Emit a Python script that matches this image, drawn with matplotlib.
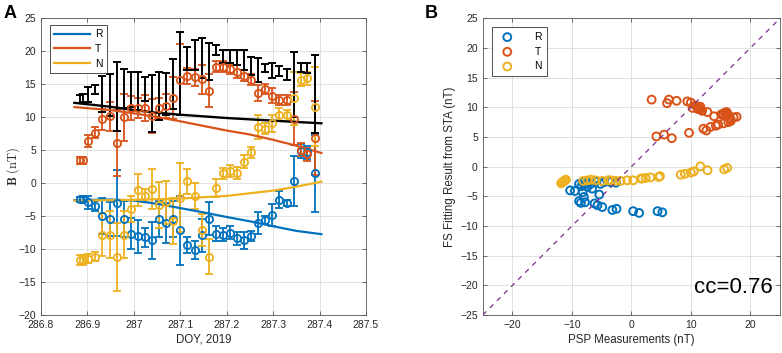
import numpy as np
import matplotlib
matplotlib.use("Agg")
import matplotlib.pyplot as plt

plt.rcParams["font.family"] = ["Liberation Sans", "DejaVu Sans"]
plt.rcParams["mathtext.fontset"] = "cm"

C_R, C_T, C_N, C_P = "#0072BD", "#D95319", "#EDB120", "#7E2F8E"
TXT = "#262626"

# ---- panel A: measurements (DOY) ----
doy = [286.884, 286.891, 286.902, 286.917, 286.932, 286.948, 286.963, 286.978, 286.993,
       287.009, 287.024, 287.039, 287.054, 287.070, 287.085, 287.100, 287.115, 287.131,
       287.146, 287.161, 287.176, 287.192, 287.207, 287.222, 287.237, 287.252, 287.268,
       287.283, 287.298, 287.313, 287.329, 287.344, 287.359, 287.374, 287.390]
br = [-2.5, -2.5, -3.0, -3.5, -5.0, -5.5, -3.1, -5.5, -7.7, -8.1, -8.3, -8.75, -5.5, -6.1,
      -5.5, -7.2, -9.5, -10.2, -8.0, -5.5, -7.7, -7.9, -7.6, -8.45, -8.75, -8.1, -6.1, -5.7,
      -4.9, -2.6, -3.1, 0.3, 4.8, 4.6, 1.4]
br_err = [0.4, 0.4, 1.0, 0.8, 2.7, 2.6, 5.0, 2.7, 2.3, 2.5, 1.4, 2.8, 2.7, 3.0, 2.7, 5.2,
          1.2, 1.4, 2.5, 2.5, 1.2, 1.0, 1.0, 1.0, 1.3, 0.8, 1.7, 0.6, 1.6, 1.3, 0.5, 3.8,
          1.0, 1.0, 5.9]
bt = [3.4, 3.4, 6.3, 7.6, 9.6, 10.1, 6.0, 9.9, 11.3, 11.3, 11.3, 10.1, 11.3, 11.6, 12.8,
      15.6, 16.2, 16.0, 15.7, 13.9, 17.6, 17.6, 17.2, 16.8, 16.2, 15.6, 13.6, 14.2, 13.2,
      12.5, 12.5, 9.7, 5.0, 4.3, 6.8]
bt_err = [0.5, 0.5, 0.9, 0.8, 1.6, 2.2, 5.0, 3.6, 1.8, 1.5, 2.0, 2.6, 1.6, 1.8, 3.2, 5.4,
          1.2, 1.3, 2.2, 2.5, 0.8, 0.8, 0.7, 1.0, 0.8, 0.8, 1.2, 0.7, 1.2, 0.8, 0.8, 4.0,
          1.0, 1.0, 5.6]
bn = [-11.7, -11.7, -11.5, -11.2, -7.85, -7.85, -11.25, -7.85, -3.95, -1.1, -2.0, -0.95,
      -3.35, -3.0, -5.85, -2.25, 0.25, -2.0, -7.2, -11.2, -0.8, 1.4, 1.8, 1.5, 3.2, 4.6,
      8.4, 8.2, 9.0, 10.3, 10.2, 12.8, 15.6, 15.8, 11.5]
bn_err = [0.7, 0.7, 0.7, 0.7, 3.2, 3.6, 5.2, 3.6, 2.0, 2.4, 1.0, 3.0, 3.5, 3.2, 3.5, 5.2,
          1.9, 2.0, 2.4, 2.6, 1.3, 0.8, 0.9, 0.9, 1.0, 0.8, 1.8, 0.8, 1.3, 1.0, 0.8, 4.0,
          1.0, 1.0, 6.0]
bmag = [12.7, 12.8, 13.4, 14.1, 13.4, 13.3, 13.1, 14.3, 14.1, 13.9, 14.2, 12.0, 13.1, 13.4,
        14.9, 16.5, 18.8, 19.3, 18.9, 18.4, 20.1, 19.1, 19.1, 19.0, 18.6, 17.7, 17.1, 17.4,
        17.0, 16.9, 16.4, 14.9, 17.5, 17.4, 13.4]
bmag_err = [0.6, 0.6, 1.1, 0.7, 2.7, 3.2, 5.2, 3.0, 2.6, 2.9, 1.8, 4.3, 3.6, 3.2, 3.8, 6.3,
            1.7, 2.3, 3.0, 2.8, 0.8, 1.0, 1.0, 1.1, 1.5, 1.4, 1.8, 0.6, 1.2, 0.8, 0.8, 4.9,
            0.7, 0.8, 5.9]

# ---- panel A: flux-rope fit curves ----
fit_doy = [286.872, 286.95, 287.0, 287.05, 287.1, 287.15, 287.2, 287.25, 287.3, 287.35, 287.404]
fit_r = [-2.65, -2.55, -2.7, -3.2, -3.85, -4.5, -5.2, -5.85, -6.6, -7.3, -7.8]
fit_t = [11.45, 11.0, 10.5, 9.95, 9.3, 8.6, 7.9, 7.3, 6.5, 5.6, 4.5]
fit_n = [-2.7, -2.65, -2.6, -2.5, -2.4, -2.2, -2.0, -1.6, -1.2, -0.6, 0.15]
fit_mag = [12.1, 11.5, 11.0, 10.6, 10.3, 10.05, 9.8, 9.6, 9.4, 9.2, 9.0]

# ---- panel B: PSP measured vs FS fit ----
sc_r_x = [-10.3, -9.5, -8.8, -8.2, -8.2, -7.7, -8.8, -8.5, -8.0, -7.8, -7.4, -6.8, -6.6, -6.0,
          -5.4, -5.2, -4.6, -6.2, -5.7, -4.9, -3.2, -2.5, 0.3, 1.3, 4.4, 5.2, -3.5, -2.6, -8.4, -7.2]
sc_r_y = [-4.0, -4.1, -2.9, -2.6, -4.3, -2.9, -5.8, -6.1, -5.1, -6.0, -3.4, -2.9, -3.7, -2.5,
          -4.7, -2.9, -2.6, -6.2, -6.5, -6.8, -7.3, -7.1, -7.5, -7.8, -7.5, -7.7, -2.6, -2.7, -3.3, -2.6]
sc_t_x = [3.4, 6.0, 6.3, 7.6, 9.4, 10.0, 10.3, 10.8, 11.1, 11.4, 11.7, 11.9, 11.2, 11.6, 12.8,
          13.9, 12.1, 12.6, 13.3, 14.2, 14.6, 15.5, 15.4, 15.7, 15.9, 16.2, 16.5, 16.7, 17.2,
          17.7, 16.3, 16.7, 4.2, 5.5, 6.8, 9.7, 15.1, 16.0]
sc_t_y = [11.3, 10.7, 11.3, 11.1, 11.0, 10.8, 9.9, 10.3, 10.0, 9.8, 9.6, 9.4, 9.7, 10.1, 9.2,
          8.5, 6.4, 6.1, 6.7, 6.9, 7.1, 7.3, 8.9, 9.1, 8.6, 8.9, 8.3, 8.0, 8.3, 8.4, 7.5, 7.7,
          5.1, 5.4, 4.8, 5.7, 8.8, 9.2]
sc_n_x = [-11.8, -11.6, -11.4, -11.2, -11.0, -8.1, -7.4, -6.8, -6.0, -4.9, -3.9, -3.4, -2.6,
          -1.8, -0.7, 0.3, 1.6, 2.4, 3.2, 4.6, 1.8, 4.8, 8.3, 9.0, 10.0, 10.5, 11.6, 12.8, 15.6, 16.1]
sc_n_y = [-2.8, -2.6, -2.5, -2.3, -2.2, -2.4, -2.3, -2.2, -2.3, -2.4, -2.3, -2.3, -2.4, -2.4,
          -2.3, -2.3, -2.0, -1.9, -1.8, -1.75, -2.0, -1.6, -1.35, -1.2, -1.0, -0.8, 0.05, -0.6,
          -0.45, -0.2]
cc_text = "cc=0.76"

fig = plt.figure(figsize=(7.82, 3.53), dpi=100)
axA = fig.add_axes([0.0524, 0.1085, 0.4156, 0.8414])
axB = fig.add_axes([0.6173, 0.1076, 0.3802, 0.8405])

def style(ax):
    ax.grid(True, color="#dcdcdc", lw=0.6)
    ax.set_axisbelow(True)
    for s in ax.spines.values():
        s.set_color("#555555"); s.set_linewidth(0.6)
    ax.tick_params(direction="in", length=3, width=0.6, colors="#555555",
                   labelcolor=TXT, labelsize=7.5, top=True, right=True)

# panel A
eb = dict(fmt="o", mfc="none", ms=5.2, mew=1.3, elinewidth=1.3, capsize=2.6, capthick=1.3)
axA.errorbar(doy, br, yerr=br_err, color=C_R, **eb)
axA.errorbar(doy, bt, yerr=bt_err, color=C_T, **eb)
axA.errorbar(doy, bn, yerr=bn_err, color=C_N, **eb)
axA.errorbar(doy, bmag, yerr=bmag_err, fmt="none", color="k", elinewidth=1.4, capsize=2.6, capthick=1.4)
lr, = axA.plot(fit_doy, fit_r, color=C_R, lw=1.6, label="R")
lt, = axA.plot(fit_doy, fit_t, color=C_T, lw=1.6, label="T")
ln, = axA.plot(fit_doy, fit_n, color=C_N, lw=1.6, label="N")
axA.plot(fit_doy, fit_mag, color="k", lw=1.7)
axA.set_xlim(286.8, 287.5); axA.set_ylim(-20, 25)
axA.set_xticks(np.arange(286.8, 287.55, 0.1))
axA.set_xticklabels(["286.8", "286.9", "287", "287.1", "287.2", "287.3", "287.4", "287.5"])
axA.set_yticks(np.arange(-20, 26, 5))
style(axA)
axA.set_xlabel("DOY, 2019", fontsize=8.3, color=TXT, labelpad=3)
axA.set_ylabel(r"$\mathbf{B}\ (\mathrm{nT})$", fontsize=9, color=TXT, va="center")
axA.yaxis.set_label_coords(-0.085, 0.5)
legA = axA.legend(handles=[lr, lt, ln], loc="upper left", bbox_to_anchor=(0.028, 0.975),
                  borderaxespad=0, fontsize=7.5, handlelength=3.4, handletextpad=0.5,
                  labelspacing=0.45, fancybox=False, framealpha=1, edgecolor="#333333",
                  borderpad=0.4)
legA.get_frame().set_linewidth(0.6)

# panel B
sk = dict(s=32, facecolors="none", linewidths=1.4)
hr = axB.scatter(sc_r_x, sc_r_y, edgecolors=C_R, label="R", **sk)
ht = axB.scatter(sc_t_x, sc_t_y, edgecolors=C_T, label="T", **sk)
hn = axB.scatter(sc_n_x, sc_n_y, edgecolors=C_N, label="N", **sk)
axB.plot([-25, 25], [-25, 25], ls=(0, (4, 4)), color=C_P, lw=0.9)
axB.set_xlim(-25, 25); axB.set_ylim(-25, 25)
axB.set_xticks([-20, -10, 0, 10, 20])
axB.set_yticks(np.arange(-25, 26, 5))
style(axB)
axB.set_xlabel("PSP Measurements (nT)", fontsize=8.3, color=TXT, labelpad=3)
axB.set_ylabel("FS Fitting Result from STA (nT)", fontsize=8.3, color=TXT, labelpad=3)
axB.text(23.7, -20.4, cc_text, ha="right", va="center", fontsize=16, color="k")
legB = axB.legend(handles=[hr, ht, hn], loc="upper left", bbox_to_anchor=(0.03, 0.972),
                  borderaxespad=0, fontsize=7.5, handletextpad=1.6, labelspacing=0.45,
                  fancybox=False, framealpha=1, edgecolor="#333333", borderpad=0.5,
                  scatterpoints=1, handlelength=2.0)
legB.get_frame().set_linewidth(0.6)

fig.text(0.004, 0.985, "A", fontsize=13, fontweight="bold", va="top", ha="left")
fig.text(0.543, 0.985, "B", fontsize=13, fontweight="bold", va="top", ha="left")

fig.savefig("out.png", dpi=100)
